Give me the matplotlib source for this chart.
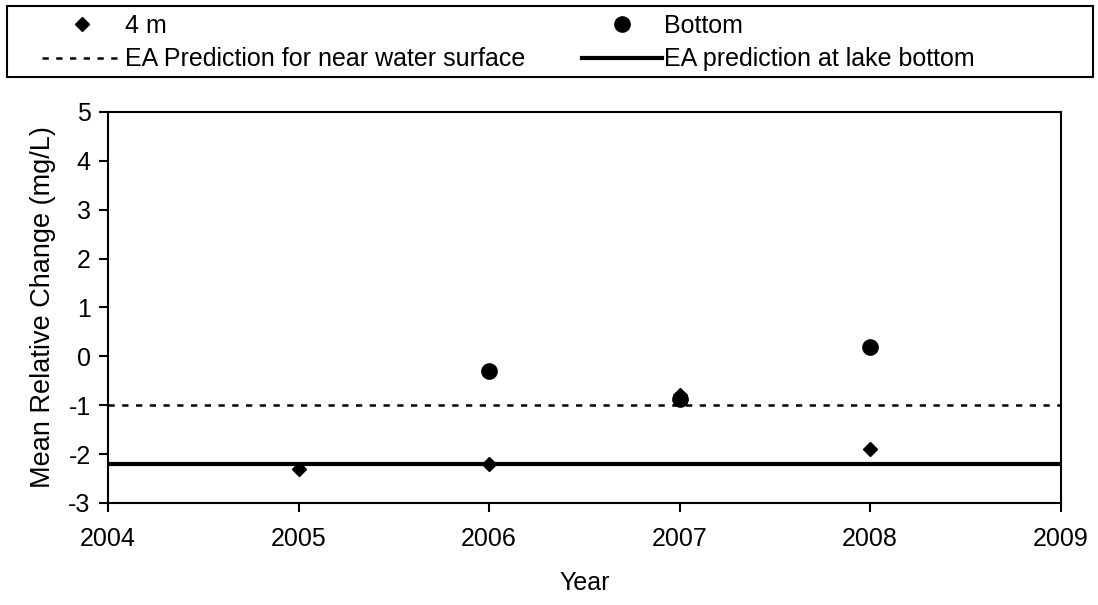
import matplotlib
matplotlib.use("Agg")
import matplotlib.pyplot as plt
from matplotlib.lines import Line2D
from matplotlib.patches import Rectangle

# data
years_4m = [2005, 2006, 2007, 2008]
change_4m = [-2.3, -2.2, -0.8, -1.9]

years_bottom = [2006, 2007, 2008]
change_bottom = [-0.3, -0.88, 0.2]

ea_surface = -1.0
ea_bottom = -2.2

x_ticks = [2004, 2005, 2006, 2007, 2008, 2009]
y_ticks = [-3, -2, -1, 0, 1, 2, 3, 4, 5]

plt.rcParams["font.family"] = ["Liberation Sans", "DejaVu Sans"]
plt.rcParams["axes.unicode_minus"] = False

fig = plt.figure(figsize=(10.98, 6.05), dpi=100)
ax = fig.add_axes([0.0984, 0.1686, 0.8676, 0.6464])

# prediction lines
ax.axhline(ea_surface, color="black", lw=1.8, linestyle=(0, (2.5, 3)), zorder=2)
ax.axhline(ea_bottom, color="black", lw=3.0, zorder=2)

# points
ax.plot(years_4m, change_4m, linestyle="none", marker="D", ms=7.5,
        color="black", zorder=3)
ax.plot(years_bottom, change_bottom, linestyle="none", marker="o", ms=11,
        color="black", zorder=3)

ax.set_xlim(2004, 2009)
ax.set_ylim(-3, 5)
ax.set_xticks(x_ticks)
ax.set_yticks(y_ticks)
ax.tick_params(axis="both", direction="out", length=6.5, width=1.5,
               labelsize=18)
ax.tick_params(axis="x", pad=11)
ax.tick_params(axis="y", pad=6)
for sp in ax.spines.values():
    sp.set_linewidth(1.5)

ax.set_xlabel("Year", fontsize=18, labelpad=14)
ax.set_ylabel("Mean Relative Change (mg/L)", fontsize=19.5, labelpad=9)

# legend (frame drawn separately so it spans the full width)
handles = [
    Line2D([], [], linestyle="none", marker="D", ms=7.5, color="black"),
    Line2D([], [], color="black", lw=1.8, linestyle=(0, (2.5, 3))),
    Line2D([], [], linestyle="none", marker="o", ms=11, color="black"),
    Line2D([], [], color="black", lw=3.0),
]
labels = ["4 m", "EA Prediction for near water surface",
          "Bottom", "EA prediction at lake bottom"]
fig.legend(handles, labels, ncol=2, loc="upper left",
           bbox_to_anchor=(42 / 1098, 1 - 14 / 605), frameon=False,
           fontsize=18, handlelength=3.2, handletextpad=0.12,
           columnspacing=2.25, labelspacing=0.37, borderpad=0,
           borderaxespad=0)
fig.patches.append(Rectangle((7 / 1098, 1 - 77 / 605), 1086 / 1098, 71 / 605,
                             transform=fig.transFigure, fill=False,
                             edgecolor="black", lw=1.5))

plt.savefig("out.png", dpi=100)
plt.close()
